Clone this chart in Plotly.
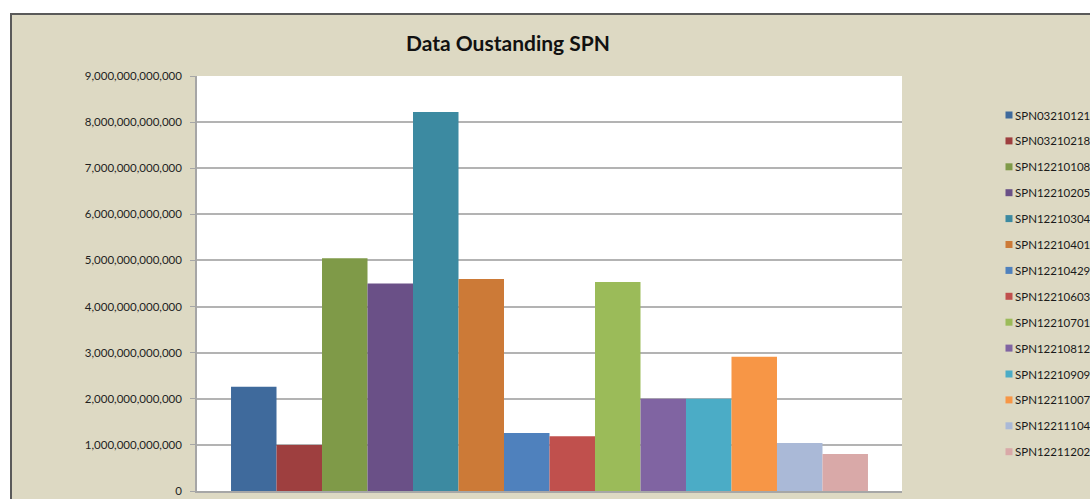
import plotly.graph_objects as go

# данные
series_names = ["SPN03210121", "SPN03210218", "SPN12210108", "SPN12210205",
                "SPN12210304", "SPN12210401", "SPN12210429", "SPN12210603",
                "SPN12210701", "SPN12210812", "SPN12210909", "SPN12211007",
                "SPN12211104", "SPN12211202"]
outstanding = [2.26e12, 1.00e12, 5.05e12, 4.50e12, 8.22e12, 4.60e12, 1.26e12,
               1.19e12, 4.53e12, 2.00e12, 2.00e12, 2.91e12, 1.04e12, 0.80e12]
bar_colors = ["#3F6A9C", "#9E3F3F", "#7F9A48", "#6A5087", "#3C8AA1", "#CC7A37",
              "#4F81BD", "#C0504D", "#9BBB59", "#8064A2", "#4BACC6", "#F79646",
              "#AAB9D7", "#D9A9A8"]
category = ["Outstanding"]
y_ticks = [i * 1e12 for i in range(10)]
y_tick_text = [f"{int(v):,}" for v in y_ticks]

# геометрия области построения (в пикселях картинки)
L, R, T, B = 197, 902, 76, 491
W, H = R - L, B - T


def px_x(p):
    return (p - L) / W


def px_y(p):
    return (B - p) / H


fig = go.Figure()
for name, val, col in zip(series_names, outstanding, bar_colors):
    fig.add_trace(go.Bar(x=category, y=[val], name=name, marker_color=col,
                         marker_line_width=0, showlegend=False))

shapes = [
    # фон области диаграммы (как в Excel)
    dict(type="rect", xref="paper", yref="paper", layer="below",
         x0=px_x(11), x1=px_x(1110), y0=px_y(520), y1=px_y(14),
         fillcolor="#DDD9C3", line=dict(color="#5A5A5A", width=2)),
    dict(type="rect", xref="x domain", yref="y domain", layer="below",
         x0=0, x1=1, y0=0, y1=1, fillcolor="white", line_width=0),
]
annotations = [
    dict(text="<b>Data Oustanding SPN</b>", xref="paper", yref="paper",
         x=px_x(508), y=px_y(43), xanchor="center", yanchor="middle",
         showarrow=False, font=dict(size=21, color="#111111")),
]

# легенда вручную: квадратик + подпись, как в Excel
for i, (name, col) in enumerate(zip(series_names, bar_colors)):
    yc = 115 + i * 25.9
    shapes.append(dict(type="rect", xref="paper", yref="paper",
                       x0=px_x(1005.5), x1=px_x(1012.5),
                       y0=px_y(yc + 3.5), y1=px_y(yc - 3.5),
                       fillcolor=col, line_width=0))
    annotations.append(dict(text=name, xref="paper", yref="paper",
                            x=px_x(1013), y=px_y(yc), xanchor="left",
                            yanchor="middle", showarrow=False,
                            font=dict(size=11.5, color="#1a1a1a")))

fig.update_layout(
    width=1090, height=499,
    margin=dict(l=L, r=1090 - R, t=T, b=499 - B, autoexpand=False),
    paper_bgcolor="white",
    plot_bgcolor="white",
    barmode="group",
    bargap=0.0965,
    bargroupgap=0,
    font=dict(family="Lato", size=11.5, color="#262626"),
    showlegend=False,
    shapes=shapes,
    annotations=annotations,
)

fig.update_yaxes(range=[0, 9e12], tickvals=y_ticks, ticktext=y_tick_text,
                 showgrid=True, gridcolor="#B3B3B3", gridwidth=1.8,
                 showline=True, linecolor="#A6A6A6", linewidth=1.5,
                 ticks="outside", ticklen=5, tickcolor="#A6A6A6",
                 ticklabelstandoff=6,
                 zeroline=False, tickfont=dict(size=11.5, color="#1f1f1f"))
fig.update_xaxes(showticklabels=False, showline=True, linecolor="#A6A6A6",
                 linewidth=1.5, ticks="")

# убираем стандартный отступ body, чтобы график стоял в углу окна
fig.write_html("out.html", config={"displayModeBar": False},
               post_script="document.body.style.margin='0';")
